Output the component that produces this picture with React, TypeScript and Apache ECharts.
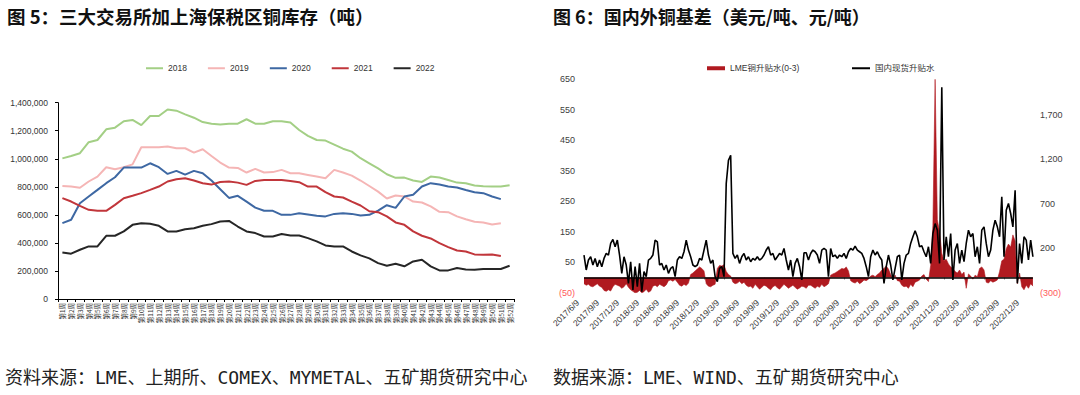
import React, { useEffect, useRef } from "react";
import * as echarts from "echarts";

// ---------- Figure 5: copper stocks (tonnes), weekly ----------
const weekLabels: string[] = Array.from({ length: 52 }, (_, i) => `第${i + 1}周`);
const stockYears = ["2018", "2019", "2020", "2021", "2022"];
const stock2018 = [
  1003000, 1020000, 1040000, 1118000, 1134000, 1210000, 1222000, 1268000, 1277000, 1240000,
  1305000, 1305000, 1352000, 1343000, 1317000, 1293000, 1262000, 1250000, 1245000, 1250000,
  1250000, 1282000, 1250000, 1250000, 1268000, 1268000, 1258000, 1205000, 1163000, 1134000,
  1130000, 1101000, 1072000, 1051000, 1004000, 968000, 932000, 890000, 864000, 866000,
  845000, 835000, 873000, 866000, 849000, 830000, 826000, 809000, 804000, 802000,
  802000, 811000,
];
const stock2019 = [
  806000, 802000, 793000, 838000, 873000, 940000, 925000, 940000, 960000, 1082000,
  1082000, 1082000, 1087000, 1075000, 1075000, 1044000, 1068000, 1020000, 973000, 937000,
  935000, 902000, 928000, 902000, 905000, 921000, 897000, 897000, 885000, 873000,
  861000, 921000, 902000, 880000, 845000, 806000, 766000, 717000, 738000, 731000,
  695000, 688000, 660000, 622000, 619000, 589000, 569000, 551000, 546000, 532000,
  540000,
];
const stock2020 = [
  541000, 565000, 683000, 731000, 778000, 826000, 868000, 937000, 937000, 937000,
  968000, 940000, 892000, 914000, 887000, 914000, 897000, 845000, 783000, 721000,
  736000, 695000, 652000, 629000, 629000, 600000, 600000, 612000, 603000, 593000,
  589000, 607000, 612000, 607000, 595000, 600000, 631000, 669000, 650000, 731000,
  743000, 802000, 826000, 816000, 802000, 795000, 778000, 762000, 755000, 731000,
  712000,
];
const stock2021 = [
  719000, 695000, 664000, 636000, 629000, 629000, 671000, 719000, 736000, 755000,
  778000, 802000, 838000, 854000, 861000, 845000, 826000, 816000, 835000, 838000,
  830000, 814000, 842000, 849000, 849000, 849000, 842000, 833000, 802000, 802000,
  762000, 731000, 724000, 695000, 667000, 626000, 619000, 589000, 546000, 529000,
  482000, 451000, 432000, 399000, 370000, 346000, 339000, 318000, 316000, 318000,
  306000,
];
const stock2022 = [
  332000, 323000, 351000, 375000, 375000, 451000, 451000, 482000, 529000, 541000,
  536000, 522000, 482000, 482000, 498000, 505000, 522000, 534000, 553000, 557000,
  517000, 482000, 470000, 446000, 446000, 463000, 453000, 453000, 434000, 411000,
  382000, 375000, 375000, 339000, 311000, 290000, 256000, 237000, 251000, 233000,
  268000, 280000, 233000, 204000, 204000, 221000, 211000, 209000, 214000, 214000,
  214000, 237000,
];
const stockColors = ["#A3CF85", "#F5B5B5", "#3E68A3", "#C1363B", "#262626"];

// ---------- Figure 6: copper basis ----------
// dates: 9th, 19th and end of each month, 2017/6/9 .. 2023/1/19
const basisDates: string[] = [];
for (let y = 2017; y <= 2023; y++) {
  for (let m = 1; m <= 12; m++) {
    if (y === 2017 && m < 6) continue;
    for (const d of [9, 19, m === 2 ? 28 : 29]) {
      if (y === 2023 && (m > 1 || d > 19)) continue;
      basisDates.push(`${y}/${m}/${d}`);
    }
  }
}
const lmeName = "LME铜升贴水(0-3)";
const domesticName = "国内现货升贴水";
// LME cash-3M spread, USD/t (left axis)
const lmeSpread = [
  -20, -25, -22, -28, -30, -25, -20, -28, -32, -42,
  -45, -40, -44, -30, -22, -25, -28, -35, -30, -20,
  -32, -40, -45, -50, -48, -42, -50, -46, -38, -48,
  -44, -28, -25, -30, -22, -26, -30, -24, -10, -8,
  -12, -6, -15, -25, -28, -22, -26, -18, 10, 15,
  22, 28, 35, 30, 22, -20, -28, -30, -25, -22,
  30, 40, 38, 42, 20, 10, 5, -15, -20, -18,
  -12, -20, -15, -25, -30, -28, -35, -22, -30, -38,
  -32, -25, -28, -35, -40, -30, -26, -33, -38, -30,
  -22, -28, -35, -30, -25, -32, -38, -34, -28, -30,
  -35, -25, -25, -30, -35, -28, -32, -22, -30, -26,
  -20, 8, 12, 15, 20, 25, 30, 28, 35, 22,
  -10, -15, -18, -12, -20, -15, -8, -10, -5, 5,
  8, 3, 10, 15, 25, 30, 38, 28, 10, -5,
  8, -10, -12, -25, -30, -28, -35, -22, -30, -15,
  -12, -8, 5, 10, -5, -13, 40, 170, 650, 190,
  150, 80, 55, 60, 45, 35, 30, 20, 15, 25,
  10, 18, -35, 12, 5, -5, 8, 3, 30, 35,
  25, -15, -18, -10, -15, -12, -8, 20, 55, 60,
  95, 110, 100, 140, 120, -20, 15, -30, -40, -25,
  -35, -20, -28,
];
// Domestic spot premium, CNY/t (right axis)
const domesticSpread = [
  125, -43, 69, 106, 13, 87, -6, 69, -6, 87,
  143, 125, 256, 300, 218, 293, 125, -81, 106, 13,
  -193, 50, -268, -6, -230, 31, -286, -62, -118, 69,
  87, 125, 293, 274, 13, 31, -43, 13, -81, -25,
  -6, -118, 69, 106, 87, 162, 293, 181, 106, 13,
  -6, 13, 87, 69, 181, 293, 125, 31, 69, -118,
  -174, -25, -6, -118, 928, 1190, 1246, 143, 87, 125,
  31, 106, 143, 69, 106, 50, 87, 69, 106, 69,
  87, 125, 181, 218, 125, 143, 69, 106, 143, 125,
  199, 69, -43, 69, -118, 31, 87, -6, -155, 150,
  150, 69, 143, 181, 162, 125, 31, 181, 199, 181,
  -118, 199, 106, 125, 87, 125, 106, 143, 87, 162,
  199, 181, 226, 181, 162, 143, 87, -6, -118, 106,
  181, 125, 162, 106, 69, -193, -6, 125, 13, -155,
  -25, 106, 125, -155, 31, 125, 143, 256, 330, 398,
  330, 218, 230, 162, 106, 218, 31, 367, 479, 405,
  31, 2012, 69, 330, 106, 367, -155, 181, 255, 31,
  181, 50, 255, 405, 330, 367, 106, 218, 31, 405,
  442, 255, 106, 181, 405, 517, 442, 330, 779, 106,
  629, 704, 592, 442, 854, -193, 255, 31, 330, 293,
  69, 293, 106,
];

const title5 = "图 5：三大交易所加上海保税区铜库存（吨）";
const title6 = "图 6：国内外铜基差（美元/吨、元/吨）";
const source5 = "资料来源：LME、上期所、COMEX、MYMETAL、五矿期货研究中心";
const source6 = "数据来源：LME、WIND、五矿期货研究中心";

const LATIN = "'Liberation Sans', Arial, 'Noto Sans CJK SC', sans-serif";
const CJK = "'Noto Sans CJK SC', sans-serif";
const MONO = "'DejaVu Sans Mono', 'Noto Sans CJK SC', monospace";

const isQuarter = (_i: number, v: string) => /^\d{4}\/(3|6|9|12)\/9$/.test(v);
const fmtThousands = (v: number) => Math.abs(v).toLocaleString("en-US");
const fmtParen = (v: number) => (v < 0 ? `(${fmtThousands(v)})` : fmtThousands(v));
const negColor = (v: any) => (Number(v) < 0 ? "#FF5A5A" : "#404040");

export default function App() {
  const ref = useRef<HTMLDivElement>(null);
  useEffect(() => {
    if (!ref.current) return;
    const chart = echarts.init(ref.current, undefined, { renderer: "svg" });
    const stockData = [stock2018, stock2019, stock2020, stock2021, stock2022];
    const option: any = {
      animation: false,
      textStyle: { fontFamily: LATIN },
      grid: [
        { left: 58, top: 102.7, width: 456, height: 196.3 },
        { left: 584, top: 79.35, width: 448.9, height: 213.5 },
      ],
      legend: [
        {
          data: stockYears,
          left: 141,
          top: 59,
          icon: "rect",
          itemWidth: 17,
          itemHeight: 2,
          itemGap: 21,
          textStyle: { fontSize: 8.5, color: "#333", fontFamily: LATIN },
        },
        {
          data: [lmeName],
          left: 702,
          top: 59,
          icon: "rect",
          itemWidth: 18,
          itemHeight: 4,
          textStyle: { fontSize: 8.5, color: "#333", fontFamily: LATIN },
        },
        {
          data: [domesticName],
          left: 847,
          top: 59,
          icon: "rect",
          itemWidth: 18,
          itemHeight: 2,
          textStyle: { fontSize: 8.5, color: "#333", fontFamily: LATIN },
        },
      ],
      xAxis: [
        {
          gridIndex: 0,
          type: "category",
          data: weekLabels,
          boundaryGap: true,
          axisLine: { show: true, lineStyle: { color: "#000", width: 1 } },
          axisTick: { show: true, interval: 0, length: 3, lineStyle: { color: "#000" } },
          axisLabel: { interval: 0, rotate: 90, fontSize: 6.5, color: "#333", margin: 4, fontFamily: CJK },
        },
        {
          gridIndex: 1,
          type: "category",
          data: basisDates,
          boundaryGap: false,
          axisLine: { show: false },
          axisTick: { show: true, interval: isQuarter, length: 2, lineStyle: { color: "#999" } },
          axisLabel: { interval: isQuarter, rotate: 45, fontSize: 8.5, color: "#333", margin: 2, padding: [0, 9, 0, 0] },
        },
      ],
      yAxis: [
        {
          gridIndex: 0,
          type: "value",
          min: 0,
          max: 1400000,
          interval: 200000,
          axisLine: { show: true, lineStyle: { color: "#000", width: 1 } },
          axisTick: { show: true, length: 3, lineStyle: { color: "#000" } },
          splitLine: { show: false },
          axisLabel: { fontSize: 8.5, color: "#333", margin: 10, formatter: (v: number) => v.toLocaleString("en-US") },
        },
        {
          gridIndex: 1,
          type: "value",
          position: "left",
          min: -50,
          max: 650,
          interval: 100,
          axisLine: { show: false },
          axisTick: { show: false },
          splitLine: { show: false },
          axisLabel: { fontSize: 9, margin: 9, color: negColor, formatter: fmtParen },
        },
        {
          gridIndex: 1,
          type: "value",
          position: "right",
          min: -300,
          max: 2100,
          interval: 500,
          axisLine: { show: false },
          axisTick: { show: false },
          splitLine: { show: false },
          axisLabel: { fontSize: 9, margin: 7, color: negColor, formatter: fmtParen, showMaxLabel: false },
        },
      ],
      series: [
        ...stockYears.map((name, k) => ({
          name,
          type: "line",
          xAxisIndex: 0,
          yAxisIndex: 0,
          data: stockData[k],
          symbol: "none",
          showSymbol: false,
          lineStyle: { width: 2, color: stockColors[k] },
          itemStyle: { color: stockColors[k] },
          z: 2 + k,
        })),
        {
          name: lmeName,
          type: "line",
          xAxisIndex: 1,
          yAxisIndex: 1,
          data: lmeSpread,
          symbol: "none",
          showSymbol: false,
          lineStyle: { width: 0.6, color: "#B01A20" },
          itemStyle: { color: "#B01A20" },
          areaStyle: { color: "#B01A20", opacity: 1 },
          z: 2,
          markLine: {
            symbol: "none",
            silent: true,
            label: { show: false },
            lineStyle: { color: "#000", width: 1.5, type: "solid" },
            data: [{ yAxis: 0 }],
          },
        },
        {
          name: domesticName,
          type: "line",
          xAxisIndex: 1,
          yAxisIndex: 2,
          data: domesticSpread,
          symbol: "none",
          showSymbol: false,
          lineStyle: { width: 1.6, color: "#000" },
          itemStyle: { color: "#000" },
          z: 3,
        },
      ],
      graphic: [
        { type: "text", left: 7, top: 7, style: { text: title5, fontSize: 18.5, fontWeight: "bold", fontFamily: CJK, fill: "#111" } },
        { type: "text", left: 553, top: 7, style: { text: title6, fontSize: 18, fontWeight: "bold", fontFamily: CJK, fill: "#111" } },
        { type: "text", left: 5, top: 368, style: { text: source5, fontSize: 18, fontFamily: MONO, fill: "#222" } },
        { type: "text", left: 553, top: 368, style: { text: source6, fontSize: 18, fontFamily: MONO, fill: "#222" } },
      ],
    };
    chart.setOption(option);
    return () => chart.dispose();
  }, []);
  return <div ref={ref} style={{ position: "absolute", left: 0, top: 0, width: 1080, height: 395, background: "#fff" }} />;
}
